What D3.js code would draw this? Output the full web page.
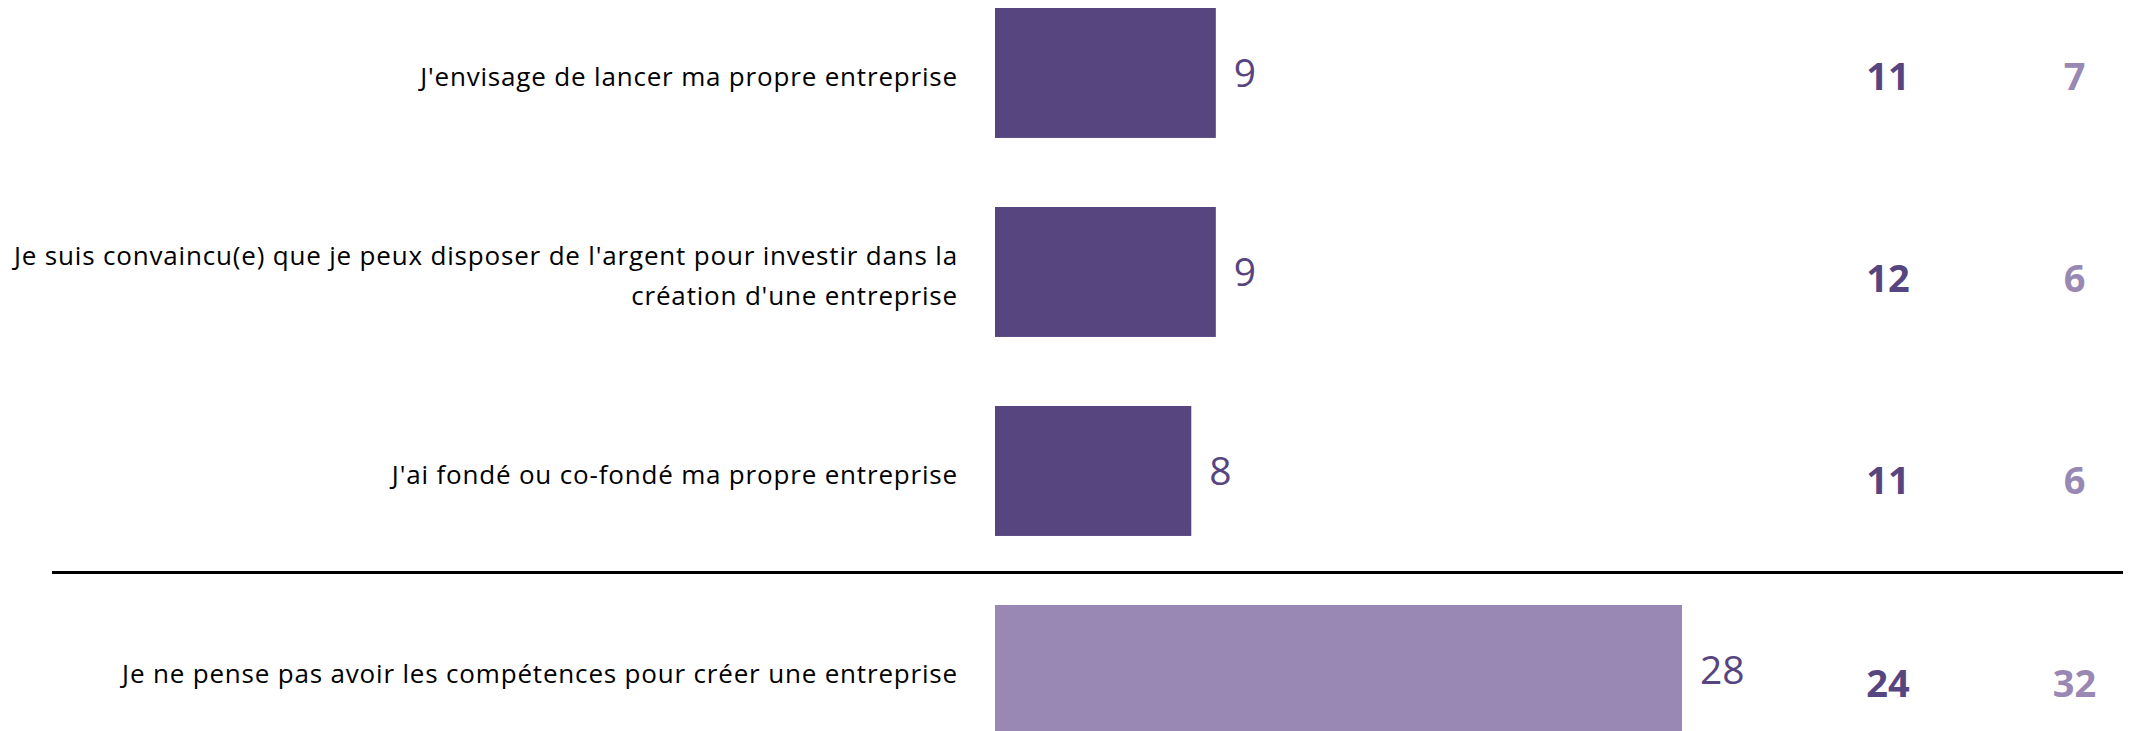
<!DOCTYPE html>
<html>
<head>
<meta charset="utf-8">
<script src="https://cdn.jsdelivr.net/npm/d3@7"></script>
<style>
  html, body { margin: 0; padding: 0; background: #ffffff; overflow: hidden; }
  svg { display: block; }
</style>
</head>
<body>
<div id="chart"></div>
<script>
// ---- Data ----
const categories = [
  "J'envisage de lancer ma propre entreprise",
  "Je suis convaincu(e) que je peux disposer de l'argent pour investir dans la\ncréation d'une entreprise",
  "J'ai fondé ou co-fondé ma propre entreprise",
  "Je ne pense pas avoir les compétences pour créer une entreprise"
];
const totalValues = [9, 9, 8, 28];
const groupAValues = [11, 12, 11, 24];
const groupBValues = [7, 6, 6, 32];
const barColorKeys = ["dark", "dark", "dark", "light"];

// ---- Layout ----
const W = 2138, H = 731;
const colors = { dark: "#574580", light: "#9888b3" };
const FONT = "'Open Sans', 'Noto Sans', sans-serif";

const svg = d3.select("#chart").append("svg")
  .attr("width", W).attr("height", H);

const x = d3.scaleLinear().domain([0, 28]).range([995, 1682]);

const step = 199, pIn = 0.347;
const r0 = 8 - (pIn / 2) * step;
const y = d3.scaleBand().domain(categories)
  .range([r0, r0 + categories.length * step])
  .paddingInner(pIn).paddingOuter(pIn / 2);

const ySide = d3.scalePoint().domain(categories).range([76.5, 683]);

const rows = categories.map((c, i) => ({
  cat: c, total: totalValues[i], a: groupAValues[i], b: groupBValues[i], col: barColorKeys[i]
}));

// Bars
svg.append("g").selectAll("rect").data(rows).join("rect")
  .attr("x", x(0))
  .attr("y", d => y(d.cat))
  .attr("width", d => x(d.total) - x(0))
  .attr("height", y.bandwidth())
  .attr("fill", d => colors[d.col]);

// Value labels next to bars
svg.append("g").selectAll("text").data(rows).join("text")
  .attr("x", d => x(d.total) + 18)
  .attr("y", d => y(d.cat) + y.bandwidth() / 2 + 14)
  .attr("font-family", FONT)
  .attr("font-size", 39)
  .attr("fill", colors.dark)
  .text(d => d.total);

// Category labels (right aligned)
const lab = svg.append("g").selectAll("text").data(rows).join("text")
  .attr("text-anchor", "end")
  .attr("font-family", FONT)
  .attr("font-size", 26)
  .attr("letter-spacing", "0.82px")
  .attr("fill", "#000");
lab.each(function(d) {
  const lines = d.cat.split("\n");
  const lh = 40;
  const cy = y(d.cat) + y.bandwidth() / 2 + 4;
  const t = d3.select(this);
  lines.forEach((ln, k) => {
    t.append("tspan")
      .attr("x", 958)
      .attr("y", cy + 9 + (k - (lines.length - 1) / 2) * lh)
      .text(ln);
  });
});

// Side columns (bold)
svg.append("g").selectAll("text").data(rows).join("text")
  .attr("x", 1888)
  .attr("y", d => ySide(d.cat) + 13.5)
  .attr("text-anchor", "middle")
  .attr("font-family", FONT)
  .attr("font-weight", "bold")
  .attr("font-size", 38)
  .attr("fill", colors.dark)
  .text(d => d.a);

svg.append("g").selectAll("text").data(rows).join("text")
  .attr("x", 2074.5)
  .attr("y", d => ySide(d.cat) + 13.5)
  .attr("text-anchor", "middle")
  .attr("font-family", FONT)
  .attr("font-weight", "bold")
  .attr("font-size", 38)
  .attr("fill", colors.light)
  .text(d => d.b);

// Separator line between rows 3 and 4
const sepY = (y(categories[2]) + y.bandwidth() + y(categories[3])) / 2 + 2;
svg.append("line")
  .attr("x1", 52).attr("x2", 2123)
  .attr("y1", sepY).attr("y2", sepY)
  .attr("stroke", "#000").attr("stroke-width", 3);
</script>
</body>
</html>
